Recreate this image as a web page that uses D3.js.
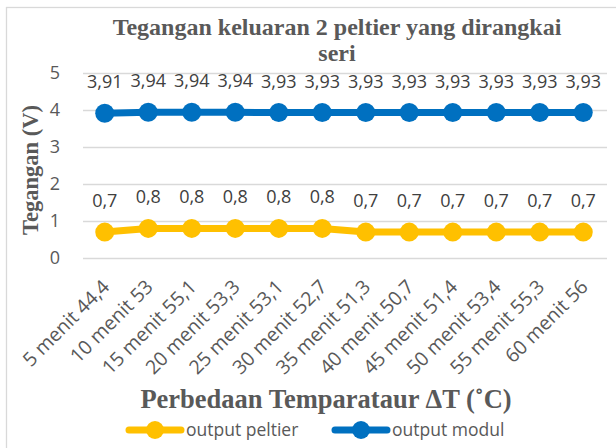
<!DOCTYPE html>
<html><head><meta charset="utf-8">
<script src="https://cdn.jsdelivr.net/npm/d3@7/dist/d3.min.js"></script>
<style>body{margin:0;background:#fff}svg{display:block}</style>
</head><body><svg id="c" width="616" height="448"></svg>
<script>
const categories = ["5 menit 44,4","10 menit 53","15 menit 55,1","20 menit 53,3","25 menit 53,1","30 menit 52,7","35 menit 51,3","40 menit 50,7","45 menit 51,4","50 menit 53,4","55 menit 55,3","60 menit 56"];
const peltier = [0.7,0.8,0.8,0.8,0.8,0.8,0.7,0.7,0.7,0.7,0.7,0.7];
const modul = [3.91,3.94,3.94,3.94,3.93,3.93,3.93,3.93,3.93,3.93,3.93,3.93];
const yTicks = [0,1,2,3,4,5];
const seriesNames = ["output peltier","output modul"];
const colors = ["#FFC000","#0070C0"];

const sans = "'Open Sans', Lato, sans-serif";
const serif = "'Liberation Serif', 'Times New Roman', serif";
const svg = d3.select("#c");
svg.append("rect").attr("x",6.5).attr("y",7.5).attr("width",620).attr("height",450)
  .attr("fill","#fff").attr("stroke","#d9d9d9").attr("stroke-width",1.3);

const L=83,R=605,T=73,B=258;
const x = d3.scaleBand().domain(categories).range([L,R]);
const y = d3.scaleLinear().domain([0,5]).range([B,T]);
const cx = d => x(d)+x.bandwidth()/2;

const grid = svg.append("g").attr("transform",`translate(${L},0)`)
  .call(d3.axisLeft(y).tickValues(yTicks).tickSize(-(607-L)).tickPadding(23).tickFormat(d3.format("d")));
grid.select(".domain").remove();
grid.selectAll(".tick line").attr("stroke","#d9d9d9").attr("stroke-width",1.4);
grid.selectAll(".tick text").attr("fill","#595959").style("font-family",sans).style("font-size","18px");

const xa = svg.append("g").attr("transform",`translate(0,${B})`).call(d3.axisBottom(x).tickSize(0).tickPadding(0));
xa.select(".domain").remove();
xa.selectAll(".tick text").attr("fill","#595959").style("font-family",sans).style("font-size","19.5px")
  .attr("text-anchor","end").attr("dy",0).attr("transform","translate(6,30) rotate(-45)");

const series=[peltier,modul];
series.forEach((vals,i)=>{
  const pts = categories.map((c,j)=>[cx(c),y(vals[j])]);
  svg.append("path").attr("d",d3.line()(pts)).attr("fill","none").attr("stroke",colors[i]).attr("stroke-width",7).attr("stroke-linejoin","round");
  svg.selectAll(null).data(pts).enter().append("circle").attr("cx",d=>d[0]).attr("cy",d=>d[1]).attr("r",9.5).attr("fill",colors[i]);
  svg.selectAll(null).data(vals).enter().append("text")
    .attr("x",(d,j)=>cx(categories[j])).attr("y",(d,j)=>y(d)-25)
    .attr("text-anchor","middle").attr("fill","#404040")
    .style("font-family",sans).style("font-size","18px")
    .text(d=>d3.format(".2~f")(d).replace(".",","));
});

svg.append("text").attr("x",337).attr("y",35).attr("text-anchor","middle").attr("fill","#595959")
  .style("font-family",serif).style("font-weight","bold").style("font-size","24px").text("Tegangan keluaran 2 peltier yang dirangkai");
svg.append("text").attr("x",337).attr("y",61).attr("text-anchor","middle").attr("fill","#595959")
  .style("font-family",serif).style("font-weight","bold").style("font-size","24px").text("seri");
svg.append("text").attr("transform","translate(38,170) rotate(-90)").attr("text-anchor","middle").attr("fill","#595959")
  .style("font-family",serif).style("font-weight","bold").style("font-size","22.5px").text("Tegangan (V)");
svg.append("text").attr("x",326).attr("y",408).attr("text-anchor","middle").attr("fill","#595959")
  .style("font-family",serif).style("font-weight","bold").style("font-size","26.5px").text("Perbedaan Temparataur ΔT (˚C)");

const leg=[{x:126},{x:332}];
leg.forEach((l,i)=>{
  const g=svg.append("g");
  g.append("line").attr("x1",l.x+3).attr("x2",l.x+55).attr("y1",430).attr("y2",430).attr("stroke",colors[i]).attr("stroke-width",7).attr("stroke-linecap","round");
  g.append("circle").attr("cx",l.x+29).attr("cy",430).attr("r",9).attr("fill",colors[i]);
  g.append("text").attr("x",l.x+60).attr("y",436).attr("fill","#595959")
    .style("font-family",sans).style("font-size","17.5px").text(seriesNames[i]);
});
</script></body></html>
